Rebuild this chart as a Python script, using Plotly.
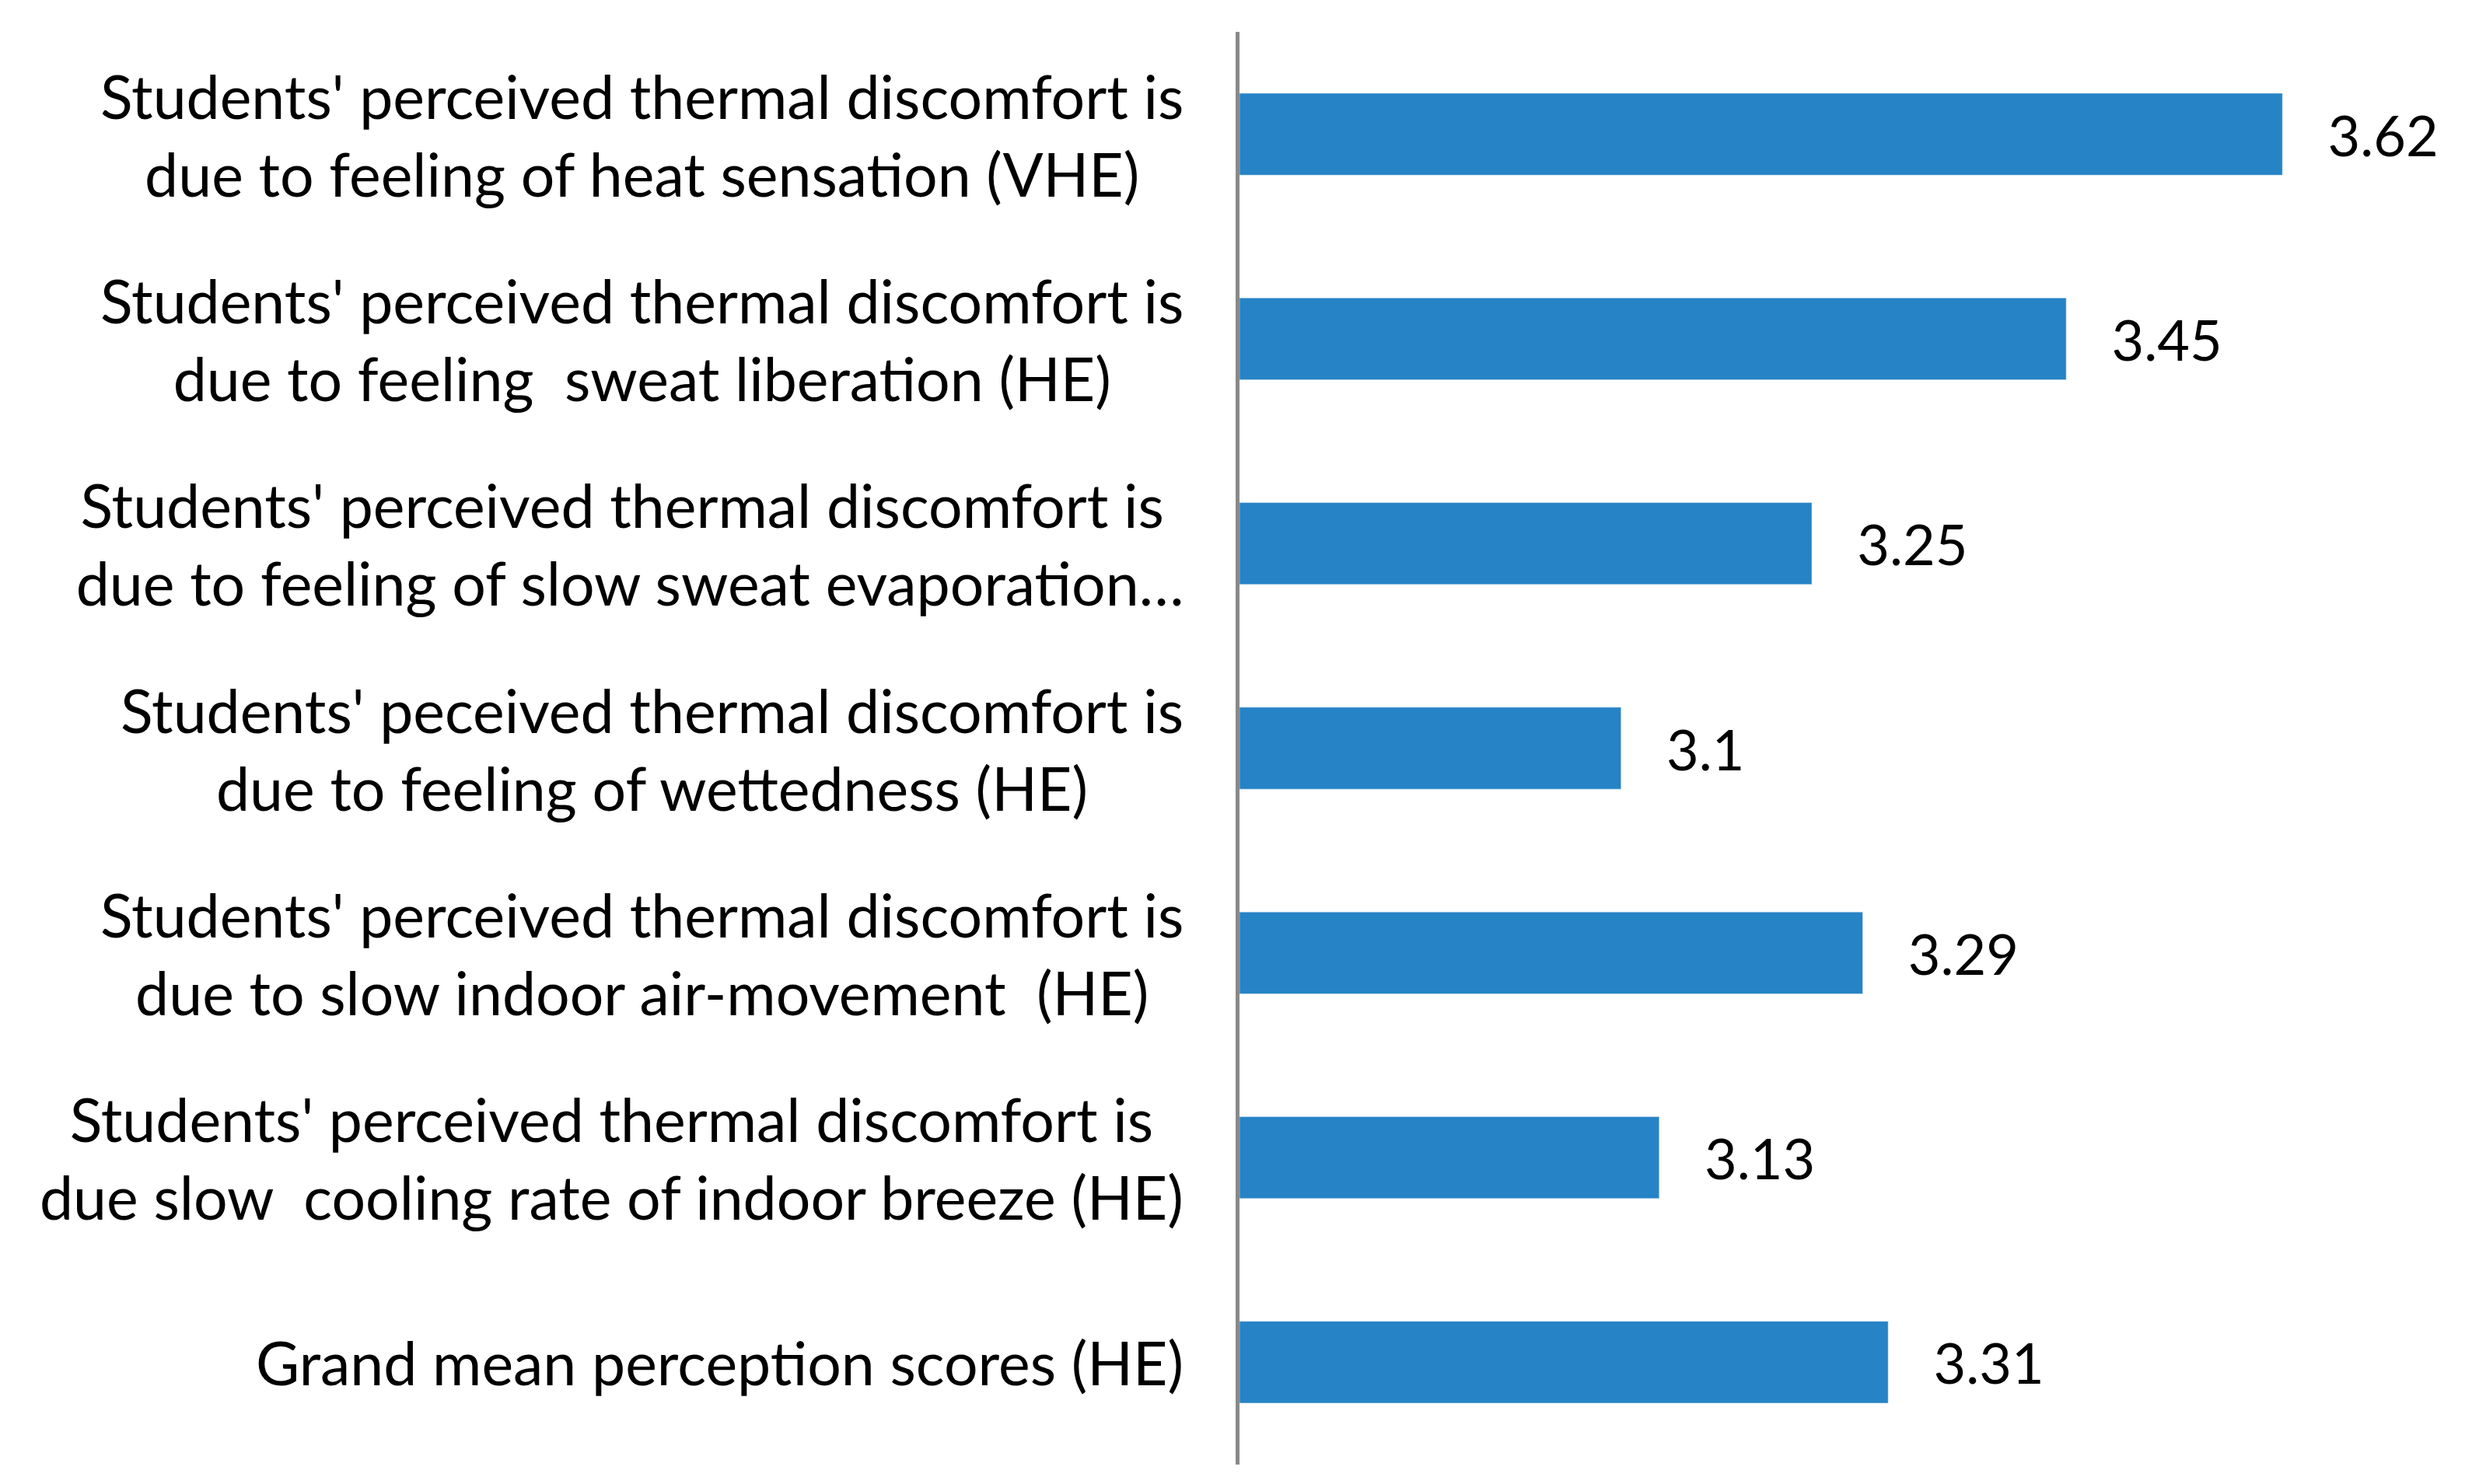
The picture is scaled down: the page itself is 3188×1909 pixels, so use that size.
import plotly.graph_objects as go

labels = [
    "Students' perceived thermal discomfort is<br>due to feeling of heat sensation (VHE)",
    "Students' perceived thermal discomfort is<br>due to feeling  sweat liberation (HE)",
    "Students' perceived thermal discomfort is<br> due to feeling of slow sweat evaporation…",
    "Students' peceived thermal discomfort is<br>due to feeling of wettedness (HE)",
    "Students' perceived thermal discomfort is<br>due to slow indoor air-movement  (HE)",
    "Students' perceived thermal discomfort is<br>due slow  cooling rate of indoor breeze (HE)",
    "Grand mean perception scores (HE)",
]
values = [3.62, 3.45, 3.25, 3.1, 3.29, 3.13, 3.31]
base = 2.8

cats = list(range(len(labels)))
fig = go.Figure(go.Bar(
    y=cats, x=[v - base for v in values], orientation="h",
    marker_color="#2683C6",
    text=["   " + str(v) for v in values], textposition="outside",
    textfont=dict(size=72, color="black", family="Lato"),
    cliponaxis=False, width=0.4,
))
anns = []
for i, l in enumerate(labels):
    anns.append(dict(x=0, xref="paper", y=i, yref="y", text=l, showarrow=False,
                     xanchor="right", yanchor="middle", align="center", xshift=-70,
                     font=dict(size=77, family="Lato", color="black")))
fig.update_layout(
    width=3188, height=1909, plot_bgcolor="white", paper_bgcolor="white",
    margin=dict(l=1586, r=40, t=33, b=33),
    showlegend=False, annotations=anns,
    xaxis=dict(range=[0, 0.955], visible=False),
    yaxis=dict(range=[6.5, -0.5], showticklabels=False, showline=True,
               linecolor="#898989", linewidth=5, ticks=""),
)
fig.write_html("out.html")
